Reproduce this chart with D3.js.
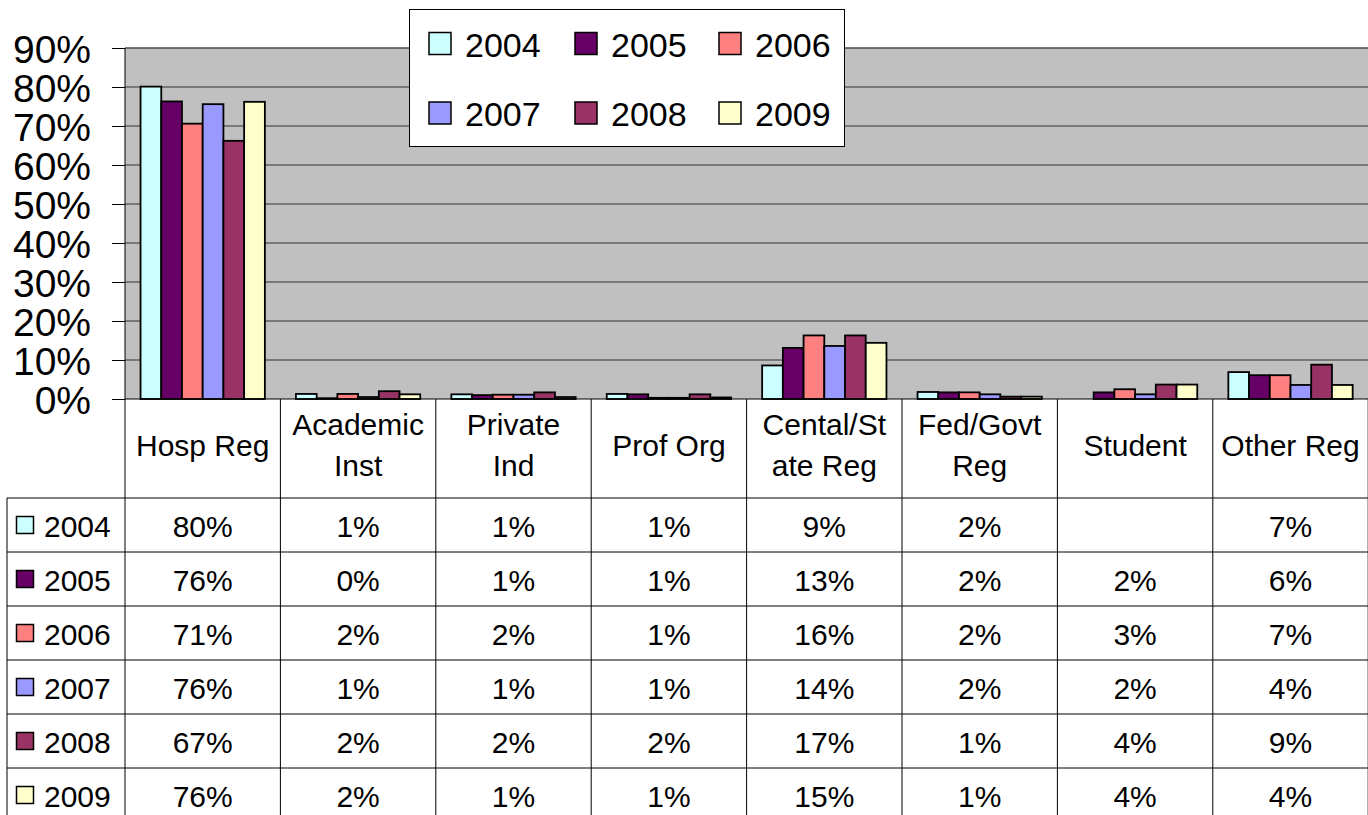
<!DOCTYPE html>
<html>
<head>
<meta charset="utf-8">
<script src="https://cdn.jsdelivr.net/npm/d3@7"></script>
<style>
  body { margin: 0; background: #fff; }
  svg { display: block; font-family: "Liberation Sans", Arial, sans-serif; }
</style>
</head>
<body>
<div id="chart"></div>
<script>
// categories and their header lines in the data table
const categories = ["Hosp Reg", "Academic Inst", "Private Ind", "Prof Org", "Cental/State Reg", "Fed/Govt Reg", "Student", "Other Reg"];
const headerLines = [["Hosp Reg"], ["Academic", "Inst"], ["Private", "Ind"], ["Prof Org"], ["Cental/St", "ate Reg"], ["Fed/Govt", "Reg"], ["Student"], ["Other Reg"]];
const years = ["2004", "2005", "2006", "2007", "2008", "2009"];
const colors = ["#ccffff", "#660066", "#ff8080", "#9999ff", "#993366", "#ffffcc"];

// bar heights (share), one array per year
const v2004 = [0.801, 0.013, 0.012, 0.013, 0.086, 0.018, null, 0.069];
const v2005 = [0.763, 0.002, 0.010, 0.012, 0.131, 0.017, 0.017, 0.061];
const v2006 = [0.706, 0.013, 0.011, 0.003, 0.163, 0.017, 0.025, 0.061];
const v2007 = [0.756, 0.005, 0.011, 0.003, 0.136, 0.012, 0.012, 0.036];
const v2008 = [0.662, 0.020, 0.017, 0.012, 0.163, 0.006, 0.037, 0.088];
const v2009 = [0.762, 0.012, 0.005, 0.004, 0.144, 0.006, 0.037, 0.036];
const values = [v2004, v2005, v2006, v2007, v2008, v2009];

// data table text as printed
const t2004 = ["80%", "1%", "1%", "1%", "9%", "2%", "", "7%"];
const t2005 = ["76%", "0%", "1%", "1%", "13%", "2%", "2%", "6%"];
const t2006 = ["71%", "2%", "2%", "1%", "16%", "2%", "3%", "7%"];
const t2007 = ["76%", "1%", "1%", "1%", "14%", "2%", "2%", "4%"];
const t2008 = ["67%", "2%", "2%", "2%", "17%", "1%", "4%", "9%"];
const t2009 = ["76%", "2%", "1%", "1%", "15%", "1%", "4%", "4%"];
const tableText = [t2004, t2005, t2006, t2007, t2008, t2009];

const yTicks = [0, 0.1, 0.2, 0.3, 0.4, 0.5, 0.6, 0.7, 0.8, 0.9];

const W = 1368, H = 815;
const plotLeft = 125, plotRight = 1368.2, plotTop = 48, plotBottom = 399;
const headerBottom = 498, rowH = 54, tableLeft = 7;

const svg = d3.select("#chart").append("svg")
    .attr("width", W)
    .attr("height", H);

const x = d3.scaleBand()
    .domain(categories)
    .range([plotLeft, plotRight]);

const x1 = d3.scaleBand()
    .domain(years)
    .range([0, x.bandwidth()])
    .paddingInner(0)
    .paddingOuter(0.75);

const y = d3.scaleLinear()
    .domain([0, 0.9])
    .range([plotBottom, plotTop]);

const color = d3.scaleOrdinal().domain(years).range(colors);

// plot area
svg.append("rect")
    .attr("x", plotLeft)
    .attr("y", plotTop)
    .attr("width", plotRight - plotLeft)
    .attr("height", plotBottom - plotTop)
    .attr("fill", "#c0c0c0");

svg.append("line")
    .attr("x1", plotLeft).attr("x2", plotRight)
    .attr("y1", plotTop).attr("y2", plotTop)
    .attr("stroke", "#808080");

// gridlines
svg.append("g")
    .selectAll("line")
    .data(yTicks.slice(1))
    .join("line")
    .attr("x1", plotLeft).attr("x2", plotRight)
    .attr("y1", d => y(d)).attr("y2", d => y(d))
    .attr("stroke", "#303030")
    .attr("stroke-width", 1);

// y axis
const yAxis = svg.append("g")
    .attr("transform", `translate(${plotLeft},0)`)
    .call(d3.axisLeft(y).tickValues(yTicks).tickFormat(d3.format(".0%")).tickSize(13).tickPadding(21));
yAxis.select(".domain").attr("stroke", "#000").attr("d", `M0,${plotTop}V${plotBottom}`);
yAxis.selectAll(".tick line").attr("stroke", "#000");
yAxis.selectAll(".tick text")
    .attr("font-size", 39)
    .attr("font-family", "Liberation Sans, Arial, sans-serif")
    .attr("fill", "#000")
    .attr("dy", "0.36em");

// bars
const groups = svg.append("g")
    .selectAll("g")
    .data(years)
    .join("g")
    .attr("fill", d => color(d));

groups.each(function(year, yi) {
    d3.select(this).selectAll("rect")
        .data(values[yi].map((v, ci) => ({ cat: categories[ci], v: v })).filter(d => d.v !== null))
        .join("rect")
        .attr("x", d => x(d.cat) + x1(year))
        .attr("y", d => y(d.v))
        .attr("width", x1.bandwidth())
        .attr("height", d => y(0) - y(d.v))
        .attr("stroke", "#000")
        .attr("stroke-width", 1.8);
});

// x axis line
svg.append("line")
    .attr("x1", plotLeft).attr("x2", plotRight)
    .attr("y1", plotBottom).attr("y2", plotBottom)
    .attr("stroke", "#000");

// data table
const tableBottom = headerBottom + rowH * years.length;
const table = svg.append("g");

table.selectAll("line.h")
    .data(d3.range(years.length + 1))
    .join("line")
    .attr("class", "h")
    .attr("x1", tableLeft).attr("x2", plotRight)
    .attr("y1", i => headerBottom + i * rowH).attr("y2", i => headerBottom + i * rowH)
    .attr("stroke", "#000");

table.selectAll("line.v")
    .data(d3.range(categories.length + 1))
    .join("line")
    .attr("class", "v")
    .attr("x1", i => plotLeft + i * x.step()).attr("x2", i => plotLeft + i * x.step())
    .attr("y1", plotBottom).attr("y2", tableBottom)
    .attr("stroke", "#000");

table.append("line")
    .attr("x1", tableLeft).attr("x2", tableLeft)
    .attr("y1", headerBottom).attr("y2", tableBottom)
    .attr("stroke", "#000");

// header labels
categories.forEach((c, ci) => {
    const lines = headerLines[ci];
    const cx = x(c) + x.bandwidth() / 2;
    const mid = (plotBottom + headerBottom) / 2;
    lines.forEach((ln, li) => {
        table.append("text")
            .attr("x", cx)
            .attr("y", mid + 7 + (li - (lines.length - 1) / 2) * 41)
            .attr("text-anchor", "middle")
            .attr("font-size", 30)
            .text(ln);
    });
});

// rows
years.forEach((yr, yi) => {
    const cy = headerBottom + yi * rowH + rowH / 2;
    table.append("rect")
        .attr("x", 16.5).attr("y", cy - 8.5)
        .attr("width", 17).attr("height", 17)
        .attr("fill", color(yr))
        .attr("stroke", "#000")
        .attr("stroke-width", 1.5);
    table.append("text")
        .attr("x", 44).attr("y", cy + 11.5)
        .attr("font-size", 30)
        .text(yr);
    tableText[yi].forEach((t, ci) => {
        table.append("text")
            .attr("x", x(categories[ci]) + x.bandwidth() / 2)
            .attr("y", cy + 11.5)
            .attr("text-anchor", "middle")
            .attr("font-size", 30)
            .text(t);
    });
});

// legend
const legend = svg.append("g");
legend.append("rect")
    .attr("x", 409.5).attr("y", 9.5)
    .attr("width", 435).attr("height", 137)
    .attr("fill", "#fff")
    .attr("stroke", "#000");

const legendCols = [429, 575, 719];
const legendRows = [32.5, 102];
const items = legend.selectAll("g")
    .data(years)
    .join("g")
    .attr("transform", (d, i) => `translate(${legendCols[i % 3]},${legendRows[Math.floor(i / 3)]})`);
items.append("rect")
    .attr("width", 22).attr("height", 22)
    .attr("fill", d => color(d))
    .attr("stroke", "#000")
    .attr("stroke-width", 1.5);
items.append("text")
    .attr("x", 36).attr("y", 24)
    .attr("font-size", 34)
    .text(d => d);
</script>
</body>
</html>
